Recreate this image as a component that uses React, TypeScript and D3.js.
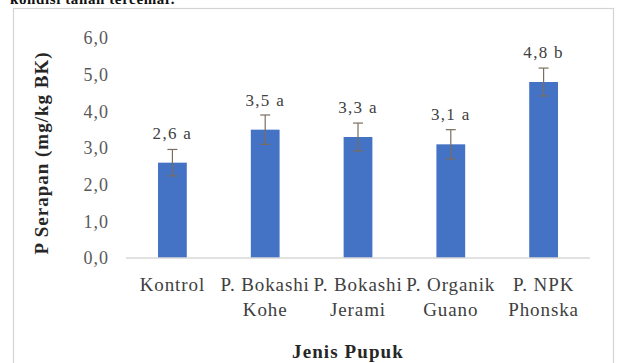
import React from 'react';
import * as d3 from 'd3';

const categories = ['Kontrol', 'P. Bokashi Kohe', 'P. Bokashi Jerami', 'P. Organik Guano', 'P. NPK Phonska'];
const categoryLines = [['Kontrol'], ['P. Bokashi', 'Kohe'], ['P. Bokashi', 'Jerami'], ['P. Organik', 'Guano'], ['P. NPK', 'Phonska']];
const values = [2.6, 3.5, 3.3, 3.1, 4.8];
const errors = [0.36, 0.4, 0.38, 0.4, 0.38];
const letters = ['a', 'a', 'a', 'a', 'b'];
const yTicks = [0, 1, 2, 3, 4, 5, 6];

const W = 620;
const H = 363;
const FONT = '"Liberation Serif", "Times New Roman", serif';

export default function App() {
  const x = d3.scaleBand<string>().domain(categories).range([126, 590]).padding(0);
  const y = d3.scaleLinear().domain([0, 6]).range([258, 38]);
  const step = x.step();
  const barW = step * 0.31;
  const fmt = (v: number) => d3.format('.1f')(v).replace('.', ',');

  return (
    <svg width={W} height={H} style={{ position: 'absolute', left: 0, top: 0, background: '#fff' }} fontFamily={FONT}>
      <rect x={0} y={0} width={W} height={H} fill="#fff" />
      <text x={10} y={4} fontSize={15} fontWeight="bold" fill="#111" letterSpacing={0.6}>kondisi tanah tercemar.</text>
      <rect x={13.5} y={8.5} width={600} height={400} fill="#fff" stroke="#d4d4d4" strokeWidth={1.2} />
      {/* y tick labels */}
      {yTicks.map((t) => (
        <text key={t} x={109} y={y(t)} dy="0.35em" textAnchor="end" fontSize={18} letterSpacing={1} fill="#595959">
          {fmt(t)}
        </text>
      ))}
      {/* bars */}
      {categories.map((c, i) => {
        const cx = (x(c) as number) + step / 2;
        return (
          <rect key={c} x={cx - barW / 2} y={y(values[i])} width={barW} height={y(0) - y(values[i])} fill="#4472c4" />
        );
      })}
      {/* axis line */}
      <line x1={126} x2={590} y1={y(0)} y2={y(0)} stroke="#d9d9d9" strokeWidth={1.5} />
      {/* error bars */}
      {categories.map((c, i) => {
        const cx = (x(c) as number) + step / 2;
        const top = y(values[i] + errors[i]);
        const bot = y(values[i] - errors[i]);
        return (
          <g key={c} stroke="#7a6e5e" strokeWidth={1.2}>
            <line x1={cx} x2={cx} y1={top} y2={bot} />
            <line x1={cx - 5} x2={cx + 5} y1={top} y2={top} />
            <line x1={cx - 5} x2={cx + 5} y1={bot} y2={bot} />
          </g>
        );
      })}
      {/* value labels */}
      {categories.map((c, i) => {
        const cx = (x(c) as number) + step / 2;
        return (
          <text key={c} x={cx} y={y(values[i]) - 24} textAnchor="middle" fontSize={17} letterSpacing={1.3} fill="#404040">
            {fmt(values[i])} {letters[i]}
          </text>
        );
      })}
      {/* category labels */}
      {categories.map((c, i) => {
        const cx = (x(c) as number) + step / 2;
        return (
          <text key={c} x={cx} textAnchor="middle" fontSize={19} letterSpacing={0.9} fill="#404040">
            {categoryLines[i].map((l, j) => (
              <tspan key={j} x={cx} y={291 + j * 25}>{l}</tspan>
            ))}
          </text>
        );
      })}
      {/* axis titles */}
      <text x={348} y={358} textAnchor="middle" fontSize={19} letterSpacing={1.1} fontWeight="bold" fill="#262626">Jenis Pupuk</text>
      <text transform={`translate(48,${153}) rotate(-90)`} textAnchor="middle" fontSize={19} letterSpacing={1} fontWeight="bold" fill="#262626">
        P Serapan (mg/kg BK)
      </text>
    </svg>
  );
}
